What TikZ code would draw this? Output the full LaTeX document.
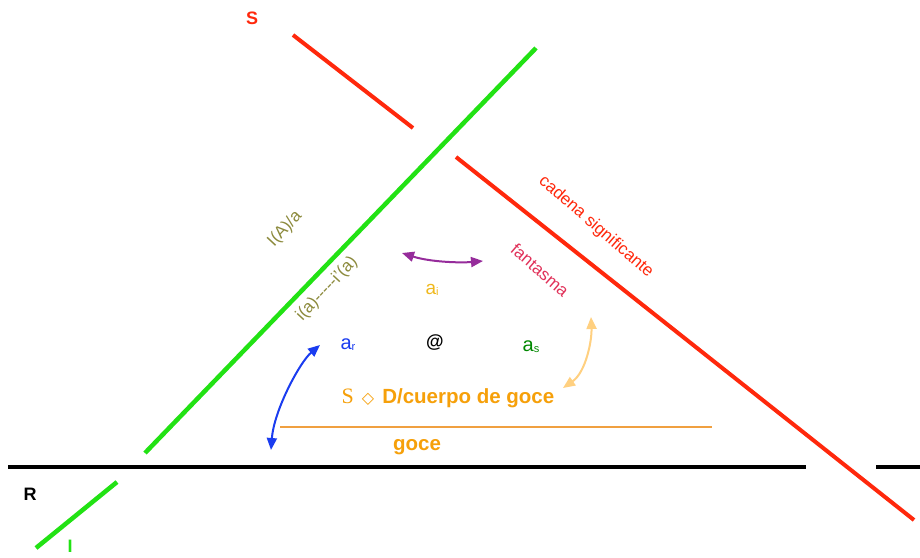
\documentclass[tikz,border=0pt]{standalone}
\usepackage{fontspec}
\setmainfont{Liberation Sans}
\newfontfamily\symfont{DejaVu Sans}
\newfontfamily\serfont{Liberation Serif}
\usetikzlibrary{arrows.meta}
\definecolor{lgreen}{RGB}{34,226,20}
\definecolor{lred}{RGB}{255,40,12}
\definecolor{gocelight}{RGB}{240,160,64}
\definecolor{goceorange}{RGB}{246,160,10}
\definecolor{olive}{RGB}{140,138,60}
\definecolor{crimson}{RGB}{225,50,90}
\definecolor{purp}{RGB}{150,44,155}
\definecolor{bluea}{RGB}{26,60,240}
\definecolor{paleor}{RGB}{255,208,128}
\definecolor{gold}{RGB}{240,185,30}
\definecolor{dgreen}{RGB}{0,136,0}
\tikzset{
  lbl/.style={inner sep=0pt, font=\fontsize{17}{17}\selectfont},
  blbl/.style={inner sep=0pt, font=\fontsize{18}{18}\selectfont\bfseries},
  glbl/.style={inner sep=0pt, font=\fontsize{20.5}{20.5}\selectfont\bfseries},
  albl/.style={inner sep=0pt, font=\fontsize{20}{20}\selectfont},
  dbl/.style={line width=2pt, {Triangle[length=12pt,width=10pt]}-{Triangle[length=12pt,width=10pt]}}
}
\newcommand{\smsub}[1]{\raisebox{-1pt}{\fontsize{11}{11}\selectfont #1}}
\begin{document}
\begin{tikzpicture}[x=1pt,y=-1pt]
\useasboundingbox (0,0) rectangle (920,557);
\fill[white] (0,0) rectangle (920,557);
% coordinates
\coordinate (bl1) at (8,467); \coordinate (bl2) at (806,467);
\coordinate (bl3) at (876,467); \coordinate (bl4) at (920,467);
\coordinate (g1) at (145,453); \coordinate (g2) at (536,48);
\coordinate (g3) at (36,548); \coordinate (g4) at (117,482);
\coordinate (r1) at (293,35); \coordinate (r2) at (413,128);
\coordinate (r3) at (456,157); \coordinate (r4) at (914,520);
\coordinate (o1) at (280,427); \coordinate (o2) at (712,427);
\coordinate (pa) at (402,253); \coordinate (pb) at (483,261);
\coordinate (ba) at (320,345); \coordinate (bb) at (271,450);
\coordinate (la) at (591,317); \coordinate (lb) at (563,388);
% lines
\draw[line width=4pt] (bl1) -- (bl2);
\draw[line width=4pt] (bl3) -- (bl4);
\draw[lgreen, line width=4.5pt] (g1) -- (g2);
\draw[lgreen, line width=4.5pt] (g3) -- (g4);
\draw[lred, line width=4pt] (r1) -- (r2);
\draw[lred, line width=4pt] (r3) -- (r4);
\draw[gocelight, line width=2pt] (o1) -- (o2);
% arrows
\draw[purp, dbl] (pa) .. controls (430,262) and (460,263) .. (pb);
\draw[bluea, dbl] (ba) .. controls (300,362) and (274,410) .. (bb);
\draw[paleor, dbl] (la) .. controls (592,340) and (586,372) .. (lb);
% labels
\node[blbl, lred] (S) at (252,18) {S};
\node[blbl, black] (R) at (30,494) {R};
\node[blbl, lgreen] (I) at (70,546) {I};
\node[lbl, lred, rotate=-41] (cad) at (596,227) {cadena significante};
\node[lbl, crimson, rotate=-41] (fan) at (540,270) {fantasma};
\node[lbl, olive, rotate=47] (IA) at (285,229) {I(A)/a};
\node[lbl, olive, rotate=47] (ia) at (327,289) {i(a){-}{-}{-}{-}{-}i'(a)};
\node[albl, gold, font=\fontsize{19}{19}\selectfont] (ai) at (432,290) {a\smsub{i}};
\node[albl, bluea] (ar) at (348,345) {a\smsub{r}};
\node[glbl, black, font=\fontsize{18}{18}\selectfont\bfseries] (at) at (435,343) {@};
\node[albl, dgreen] (as) at (531,347) {a\smsub{s}};
\node[glbl, goceorange] (sd) at (448,398) {{\serfont\mdseries\fontsize{22}{22}\selectfont S}\hspace{8pt}{\symfont\mdseries\fontsize{16}{16}\selectfont ◇}\hspace{8pt}D/cuerpo de goce};
\node[glbl, goceorange] (goce) at (417,447) {goce};
\end{tikzpicture}
\end{document}
